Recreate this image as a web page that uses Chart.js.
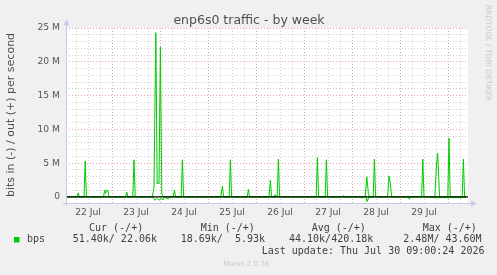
<!DOCTYPE html>
<html lang="en">
<head>
    <meta charset="UTF-8">
    <title>enp6s0 traffic - by week</title>
    <style>
        html, body {
            margin: 0;
            padding: 0;
            background: #f0f0f0;
        }
        #chart {
            display: block;
        }
    </style>
</head>
<body>
    <canvas id="chart" width="497" height="275"></canvas>

    <script src="https://cdn.jsdelivr.net/npm/chart.js"></script>
    <script>
        // hours since 22 Jul 00:00, values in Mbit/s
        const outHours = [1.5, 6.5, 7.1, 7.7, 10.0, 10.6, 11.2, 19.8, 20.3, 20.8, 21.3, 22.0, 22.5,
            30.8, 31.4, 32.0, 34.4, 35.0, 35.6, 44.2, 45.0, 45.9, 46.6, 47.5, 48.2, 48.9, 49.5,
            54.6, 55.2, 55.8, 58.6, 59.2, 59.8, 78.4, 79.2, 79.8, 82.6, 83.2, 83.8,
            91.6, 92.2, 92.8, 102.5, 103.2, 103.8, 105.2, 105.5, 105.8, 106.6, 107.2, 107.8,
            126.1, 126.7, 127.3, 130.6, 131.2, 131.8, 139.2, 139.7, 140.2,
            150.6, 151.4, 152.2, 152.7, 154.6, 155.2, 155.8, 161.8, 162.5, 163.2, 163.8,
            178.8, 179.4, 180.0, 185.4, 186.3, 186.8, 187.8, 191.9, 192.5, 193.1,
            199.1, 199.7, 200.3, 201.0];
        const outMbps = [0, 0, 0.6, 0, 0, 5.3, 0, 0, 1.0, 0.5, 1.0, 0.9, 0,
            0, 0.7, 0, 0, 5.5, 0, 0, 1.5, 24.3, 2.0, 2.0, 22.2, 0.6, 0,
            0, 1.0, 0, 0, 5.5, 0, 0, 1.6, 0, 0, 5.5, 0,
            0, 1.1, 0, 0, 2.5, 0, 0, 0.3, 0, 0, 5.6, 0,
            0, 5.8, 0, 0, 5.5, 0, 0, 0.2, 0,
            0, 3.0, 0.5, 0, 0, 5.6, 0, 0, 3.1, 2.0, 0,
            0, 5.6, 0, 0, 5.0, 6.5, 0, 0, 8.7, 0,
            0, 5.6, 0, 0];

        const inHours = [1.5, 44.5, 45.5, 46.5, 47.5, 48.5, 49.5, 50.5, 52.0, 53.0,
            100.0, 100.5, 101.0, 122.5, 123.0, 123.5, 148.3, 148.8, 149.3,
            151.0, 151.5, 152.5, 172.2, 172.7, 173.2, 183.0, 184.0, 200.0, 201.0];
        const inMbps = [0, 0, -0.5, -0.2, -0.5, -0.2, -0.45, 0, -0.3, 0,
            0, -0.1, 0, 0, -0.1, 0, 0, -0.2, 0,
            0, -0.7, 0, 0, -0.35, 0, 0, -0.1, -0.1, 0];

        const dayLabels = ['22 Jul', '23 Jul', '24 Jul', '25 Jul', '26 Jul', '27 Jul', '28 Jul', '29 Jul'];

        const legendHeads = ['Cur (-/+)', 'Min (-/+)', 'Avg (-/+)', 'Max (-/+)'];
        const legendValues = ['51.40k/ 22.06k', '18.69k/  5.93k', '44.10k/420.18k', '2.48M/ 43.60M'];

        function toPoints(xs, ys) {
            return xs.map((x, i) => ({ x: x, y: ys[i] }));
        }

        const majorGrid = 'rgba(225,120,120,0.7)';
        const minorGrid = 'rgba(150,150,150,0.45)';

        // white plot area, zero line, axes and all the rrdtool text
        const munin = {
            id: 'munin',
            beforeDraw(chart) {
                const a = chart.chartArea;
                const ctx = chart.ctx;
                ctx.save();
                ctx.fillStyle = '#ffffff';
                ctx.fillRect(a.left, a.top, a.right - a.left, a.bottom - a.top);
                ctx.restore();
            },
            afterDatasetsDraw(chart) {
                const a = chart.chartArea;
                const ctx = chart.ctx;
                const y0 = chart.scales.y.getPixelForValue(0);
                ctx.save();
                ctx.strokeStyle = '#000000';
                ctx.lineWidth = 1.2;
                ctx.beginPath();
                ctx.moveTo(a.left, y0);
                ctx.lineTo(a.right, y0);
                ctx.stroke();

                // axes with arrows
                ctx.strokeStyle = '#c8c8ec';
                ctx.fillStyle = '#c8c8ec';
                ctx.lineWidth = 1;
                ctx.beginPath();
                ctx.moveTo(a.left + 0.5, a.bottom + 3);
                ctx.lineTo(a.left + 0.5, a.top - 4);
                ctx.moveTo(a.left - 3, a.bottom + 0.5);
                ctx.lineTo(a.right + 4, a.bottom + 0.5);
                ctx.stroke();
                ctx.beginPath();
                ctx.moveTo(a.left + 0.5, a.top - 9);
                ctx.lineTo(a.left - 2.5, a.top - 3);
                ctx.lineTo(a.left + 3.5, a.top - 3);
                ctx.fill();
                ctx.beginPath();
                ctx.moveTo(a.right + 9, a.bottom + 0.5);
                ctx.lineTo(a.right + 3, a.bottom - 2.5);
                ctx.lineTo(a.right + 3, a.bottom + 3.5);
                ctx.fill();
                ctx.restore();
            },
            afterDraw(chart) {
                const ctx = chart.ctx;
                ctx.save();

                ctx.fillStyle = '#505050';
                ctx.font = '12.5px "DejaVu Sans"';
                ctx.textAlign = 'center';
                ctx.textBaseline = 'alphabetic';
                ctx.fillText('enp6s0 traffic - by week', 249, 24);

                ctx.save();
                ctx.translate(11, 115);
                ctx.rotate(-Math.PI / 2);
                ctx.font = '11px "DejaVu Sans"';
                ctx.textBaseline = 'middle';
                ctx.fillText('bits in (-) / out (+) per second', 0, 0);
                ctx.restore();

                ctx.save();
                ctx.translate(488, 53);
                ctx.rotate(Math.PI / 2);
                ctx.fillStyle = '#c8c8c8';
                ctx.font = '7.5px "DejaVu Sans"';
                ctx.textBaseline = 'middle';
                ctx.fillText('RRDTOOL / TOBI OETIKER', 0, 0);
                ctx.restore();

                // legend
                ctx.font = '10px "DejaVu Sans Mono"';
                ctx.textAlign = 'left';
                ctx.textBaseline = 'middle';
                ctx.fillStyle = '#404040';
                const headX = [89, 200.7, 311.7, 422.7];
                const valX = [72.7, 180.7, 289, 403.3];
                legendHeads.forEach((t, i) => ctx.fillText(t, headX[i], 228));
                legendValues.forEach((t, i) => ctx.fillText(t, valX[i], 239.5));
                ctx.fillText('bps', 27, 239.5);
                ctx.fillText('Last update: Thu Jul 30 09:00:24 2026', 261.7, 251);

                ctx.fillStyle = '#00cc00';
                ctx.fillRect(14, 237, 5.5, 5.5);

                ctx.fillStyle = '#c8c8c8';
                ctx.font = '7px "DejaVu Sans"';
                ctx.fillText('Munin 2.0.76', 223.3, 264);
                ctx.restore();
            }
        };

        new Chart(document.getElementById('chart'), {
            type: 'line',
            data: {
                datasets: [{
                    label: 'out',
                    data: toPoints(outHours, outMbps),
                    borderColor: '#00cc00',
                    borderWidth: 1,
                    pointRadius: 0,
                    fill: false,
                    tension: 0
                }, {
                    label: 'in',
                    data: toPoints(inHours, inMbps),
                    borderColor: '#00cc00',
                    borderWidth: 1,
                    pointRadius: 0,
                    fill: false,
                    tension: 0
                }]
            },
            options: {
                responsive: false,
                animation: false,
                events: [],
                layout: {
                    padding: { top: 28, right: 29, bottom: 52, left: 0 }
                },
                plugins: {
                    legend: { display: false },
                    tooltip: { enabled: false },
                    title: { display: false }
                },
                scales: {
                    x: {
                        type: 'linear',
                        min: 1,
                        max: 202,
                        afterFit: s => { s.height = 20; },
                        afterBuildTicks: s => {
                            const t = [];
                            for (let h = 6; h <= 198; h += 6) t.push({ value: h });
                            s.ticks = t;
                        },
                        border: { display: false, dash: [1, 2] },
                        grid: {
                            drawTicks: false,
                            color: c => c.tick.value % 24 === 0 ? majorGrid : minorGrid,
                            lineWidth: 1
                        },
                        ticks: {
                            autoSkip: false,
                            maxRotation: 0,
                            padding: 4,
                            color: '#555555',
                            font: { family: 'DejaVu Sans', size: 9.2 },
                            callback: v => v % 24 === 12 ? (dayLabels[(v - 12) / 24] || '') : ''
                        }
                    },
                    y: {
                        min: -0.9,
                        max: 25,
                        afterFit: s => { s.width = 66; },
                        afterBuildTicks: s => {
                            const t = [];
                            for (let v = 0; v <= 25; v++) t.push({ value: v });
                            s.ticks = t;
                        },
                        border: { display: false, dash: [1, 2] },
                        grid: {
                            drawTicks: false,
                            color: c => c.tick.value % 5 === 0 ? majorGrid : minorGrid,
                            lineWidth: 1
                        },
                        ticks: {
                            autoSkip: false,
                            padding: 6,
                            color: '#555555',
                            font: { family: 'DejaVu Sans', size: 9.2 },
                            callback: v => v % 5 === 0 ? (v === 0 ? '0' : v + ' M') : ''
                        }
                    }
                }
            },
            plugins: [munin]
        });
    </script>
</body>
</html>
